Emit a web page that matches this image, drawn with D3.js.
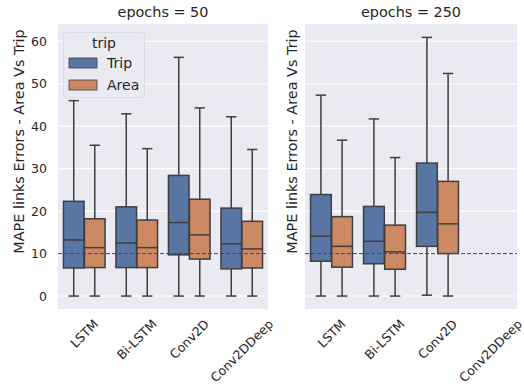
<!DOCTYPE html>
<html><head><meta charset="utf-8">
<script src="https://cdn.jsdelivr.net/npm/d3@7"></script>
<style>body{margin:0;background:#fff}svg{display:block}text{font-family:"DejaVu Sans",sans-serif;fill:#262626}</style>
</head><body><svg id="c" width="524" height="387"></svg>
<script>
const categories = ["LSTM","Bi-LSTM","Conv2D","Conv2DDeep"];
const hues = ["Trip","Area"];
const panels = ["epochs = 50","epochs = 250"];
const yTicks = [0,10,20,30,40,50,60];
const refLine = 10;
// each entry: [whiskerLow, q1, median, q3, whiskerHigh]
const stats50Trip = [[0,6.6,13.2,22.3,46.0],[0,6.7,12.5,21.0,42.9],[0,9.7,17.3,28.4,56.2],[0,6.4,12.3,20.7,42.2]];
const stats50Area = [[0,6.7,11.4,18.2,35.5],[0,6.7,11.4,17.9,34.7],[0,8.7,14.4,22.8,44.3],[0,6.6,11.1,17.6,34.5]];
const stats250Trip = [[0,8.2,14.1,23.9,47.3],[0,7.6,12.9,21.1,41.7],[0.2,11.7,19.7,31.3,60.9],null];
const stats250Area = [[0,6.8,11.7,18.7,36.7],[0,6.3,10.4,16.7,32.6],[0,10.0,17.0,27.0,52.4],null];

const colors = {Trip:"#5975a4", Area:"#cc8963"};
const edge = "#3f3f3f";
const svg = d3.select("#c");
const panelX = [[58,268],[305,517]];
const plotTop = 24, plotBottom = 309;
const y = d3.scaleLinear().domain([-3.05,64.05]).range([plotBottom, plotTop]);
const data = [{Trip:stats50Trip, Area:stats50Area},{Trip:stats250Trip, Area:stats250Area}];
const tickFs = 12.5, labelFs = 14.4;

panels.forEach((title, p) => {
  const [x0,x1] = panelX[p];
  const g = svg.append("g");
  g.append("rect").attr("x",x0).attr("y",plotTop).attr("width",x1-x0).attr("height",plotBottom-plotTop).attr("fill","#eaeaf2");
  yTicks.forEach(t => g.append("line").attr("x1",x0).attr("x2",x1).attr("y1",y(t)).attr("y2",y(t)).attr("stroke","#fff").attr("stroke-width",1.1));
  const x = d3.scaleBand().domain(categories).range([x0,x1]).paddingInner(0).paddingOuter(0);
  const hx = d3.scaleBand().domain(hues).range([0, x.bandwidth()*0.8]);
  categories.forEach((c,i) => {
    hues.forEach(h => {
      const s = data[p][h][i];
      if (!s) return;
      const [lo,q1,med,q3,hi] = s;
      const bx = x(c) + x.bandwidth()*0.1 + hx(h);
      const bw = hx.bandwidth();
      const inner = bw*0.98, ix = bx + (bw-inner)/2, cx = bx + bw/2;
      g.append("line").attr("x1",cx).attr("x2",cx).attr("y1",y(q3)).attr("y2",y(hi)).attr("stroke",edge).attr("stroke-width",1.5);
      g.append("line").attr("x1",cx).attr("x2",cx).attr("y1",y(q1)).attr("y2",y(lo)).attr("stroke",edge).attr("stroke-width",1.5);
      [lo,hi].forEach(v => g.append("line").attr("x1",cx-inner/4).attr("x2",cx+inner/4).attr("y1",y(v)).attr("y2",y(v)).attr("stroke",edge).attr("stroke-width",1.5));
      g.append("rect").attr("x",ix).attr("y",y(q3)).attr("width",inner).attr("height",y(q1)-y(q3)).attr("fill",colors[h]).attr("stroke",edge).attr("stroke-width",1.5);
      g.append("line").attr("x1",ix).attr("x2",ix+inner).attr("y1",y(med)).attr("y2",y(med)).attr("stroke",edge).attr("stroke-width",1.5);
    });
    const t = g.append("text").attr("font-size",tickFs).attr("text-anchor","middle").attr("dominant-baseline","central").text(c);
    const w = t.node().getComputedTextLength(), hgt = tickFs*0.95;
    const H = (w + hgt) * Math.SQRT1_2;
    t.attr("transform",`translate(${x(c)+x.bandwidth()/2},${plotBottom+8.5+H/2}) rotate(-45)`);
  });
  g.append("line").attr("x1",x0).attr("x2",x1).attr("y1",y(refLine)).attr("y2",y(refLine)).attr("stroke","#3030ff").attr("stroke-width",1).attr("stroke-dasharray","4,2");
  g.append("text").attr("x",(x0+x1)/2).attr("y",17).attr("text-anchor","middle").attr("font-size",labelFs).text(title);
  const lx = p===0 ? 19 : 292;
  g.append("text").attr("transform",`translate(${lx},${(plotTop+plotBottom)/2-25}) rotate(-90)`).attr("text-anchor","middle").attr("dominant-baseline","central").attr("font-size",labelFs).text("MAPE links Errors - Area Vs Trip");
  if (p===0) {
    yTicks.forEach(t => g.append("text").attr("x",x0-11).attr("y",y(t)).attr("text-anchor","end").attr("dominant-baseline","central").attr("font-size",tickFs).text(t));
  }
});

const lg = svg.append("g");
lg.append("rect").attr("x",63.5).attr("y",32.5).attr("width",81).attr("height",65).attr("rx",3).attr("fill","#eaeaf2").attr("fill-opacity",0.8).attr("stroke","#d5d5dd").attr("stroke-width",0.8);
lg.append("text").attr("x",104).attr("y",48).attr("text-anchor","middle").attr("font-size",14).text("trip");
hues.forEach((h,i) => {
  const yy = 58 + i*22;
  lg.append("rect").attr("x",69).attr("y",yy).attr("width",28).attr("height",10).attr("fill",colors[h]).attr("stroke",edge).attr("stroke-width",0.8);
  lg.append("text").attr("x",107).attr("y",yy+5).attr("dominant-baseline","central").attr("font-size",14).text(h);
});
</script></body></html>
